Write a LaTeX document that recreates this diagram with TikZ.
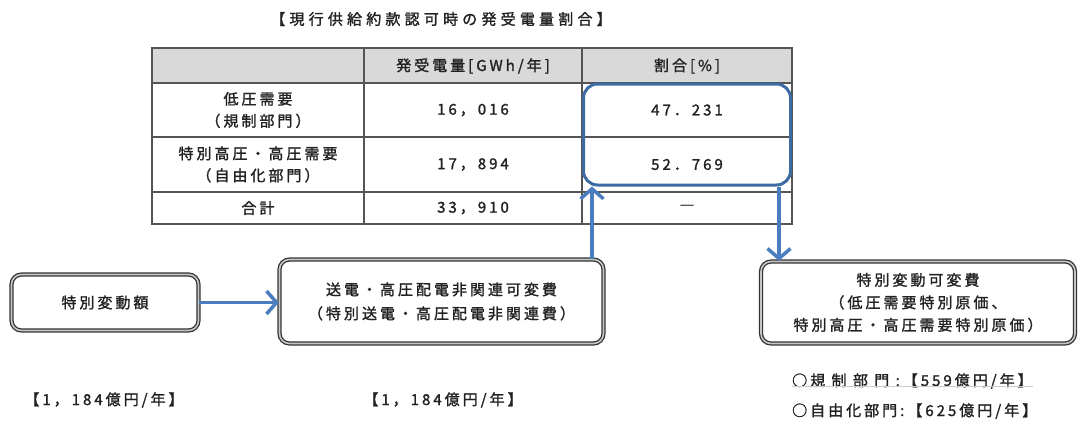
\documentclass[tikz,border=0pt]{standalone}
\usepackage{fontspec}
\setmainfont{Noto Sans CJK JP}[LetterSpace=20,FakeBold=1.5]
\newfontfamily\widefont{Noto Sans CJK JP}[LetterSpace=28,FakeBold=1.5]
\usetikzlibrary{arrows.meta}
\definecolor{txt}{HTML}{222222}
\definecolor{hlblue}{HTML}{3D6BA3}
\definecolor{arrblue}{HTML}{4A7EBF}
\definecolor{hdr}{HTML}{D9D9D9}
\definecolor{gridc}{HTML}{555555}
\definecolor{framec}{HTML}{333333}
\begin{document}
\begin{tikzpicture}[x=1pt,y=-1pt,
  every node/.style={text=txt, font=\fontsize{15}{22}\selectfont},
  cell/.style={align=center, inner sep=0pt},
  dbox/.style={draw=framec, double=gray!45, double distance=1.6pt, line width=1.3pt,
    rounded corners=10pt, align=center, inner sep=0pt},
  arr/.style={draw=arrblue, line width=3.5pt, -{Straight Barb[length=10pt,width=23pt]}},
  hlbox/.style={draw=hlblue, line width=3pt, rounded corners=14pt, inner sep=0pt}]
\useasboundingbox[fill=white] (0,0) rectangle (1080,424);

% title
\node[cell, font=\widefont\fontsize{15}{22}\selectfont] (title) at (441,19) {【現行供給約款認可時の発受電量割合】};

% table
\fill[hdr] (152,48) rectangle (792,83);
\draw[gridc, line width=1.1pt] (152,48) rectangle (792,224);
\draw[gridc, line width=1.1pt] (152,83) -- (792,83) (152,137) -- (792,137) (152,192) -- (792,192)
  (364,48) -- (364,224) (582,48) -- (582,224);

\node[cell] (h1) at (473,66) {発受電量[GWh/年]};
\node[cell] (h2) at (687,66) {割合[\%]};
\node[cell] (r1a) at (258,110) {低圧需要\\（規制部門）};
\node[cell] (r1b) at (473,110) {16，016};
\node[cell] (r1c) at (687,110) {47．231};
\node[cell] (r2a) at (258,164.5) {特別高圧・高圧需要\\（自由化部門）};
\node[cell] (r2b) at (473,164.5) {17，894};
\node[cell] (r2c) at (687,164.5) {52．769};
\node[cell] (r3a) at (258,208) {合計};
\node[cell] (r3b) at (473,208) {33，910};
\node[cell] (r3c) at (687,208) {―};

% highlight
\node[hlbox, minimum width=207pt, minimum height=101pt] (hl) at (687,134.5) {};

% boxes
\node[dbox, minimum width=187pt, minimum height=56pt] (b1) at (105,302.5) {特別変動額};
\node[dbox, minimum width=324pt, minimum height=84pt, font=\fontsize{15}{24}\selectfont] (b2) at (441.5,301.5)
  {送電・高圧配電非関連可変費\\（特別送電・高圧配電非関連費）};
\node[dbox, minimum width=314pt, minimum height=82pt, font=\fontsize{15}{22.5}\selectfont] (b3) at (918,302.5)
  {特別変動可変費\\（低圧需要特別原価、\\特別高圧・高圧需要特別原価）};

% connectors
\coordinate (ux) at (592,0);
\coordinate (dx) at (779,0);
\draw[arr] (b1.east) -- (b1.east -| b2.west);
\draw[arr] (ux |- b2.north) -- (ux |- hl.south);
\draw[arr] (dx |- hl.south) -- (dx |- b3.north);

% labels
\node[cell] (l1) at (104,400) {【1，184億円/年】};
\node[cell] (l2) at (443,400) {【1，184億円/年】};
\node[cell, anchor=west] (l3) at (792,381) {○規 制 部 門 :【559億円/年】};
\node[cell, anchor=west] (l4) at (792,411) {○自由化部門:【625億円/年】};
\draw[gray!40, line width=0.8pt] ([yshift=2pt]l3.south west) -- ([yshift=2pt]l3.south east);
\end{tikzpicture}
\end{document}
